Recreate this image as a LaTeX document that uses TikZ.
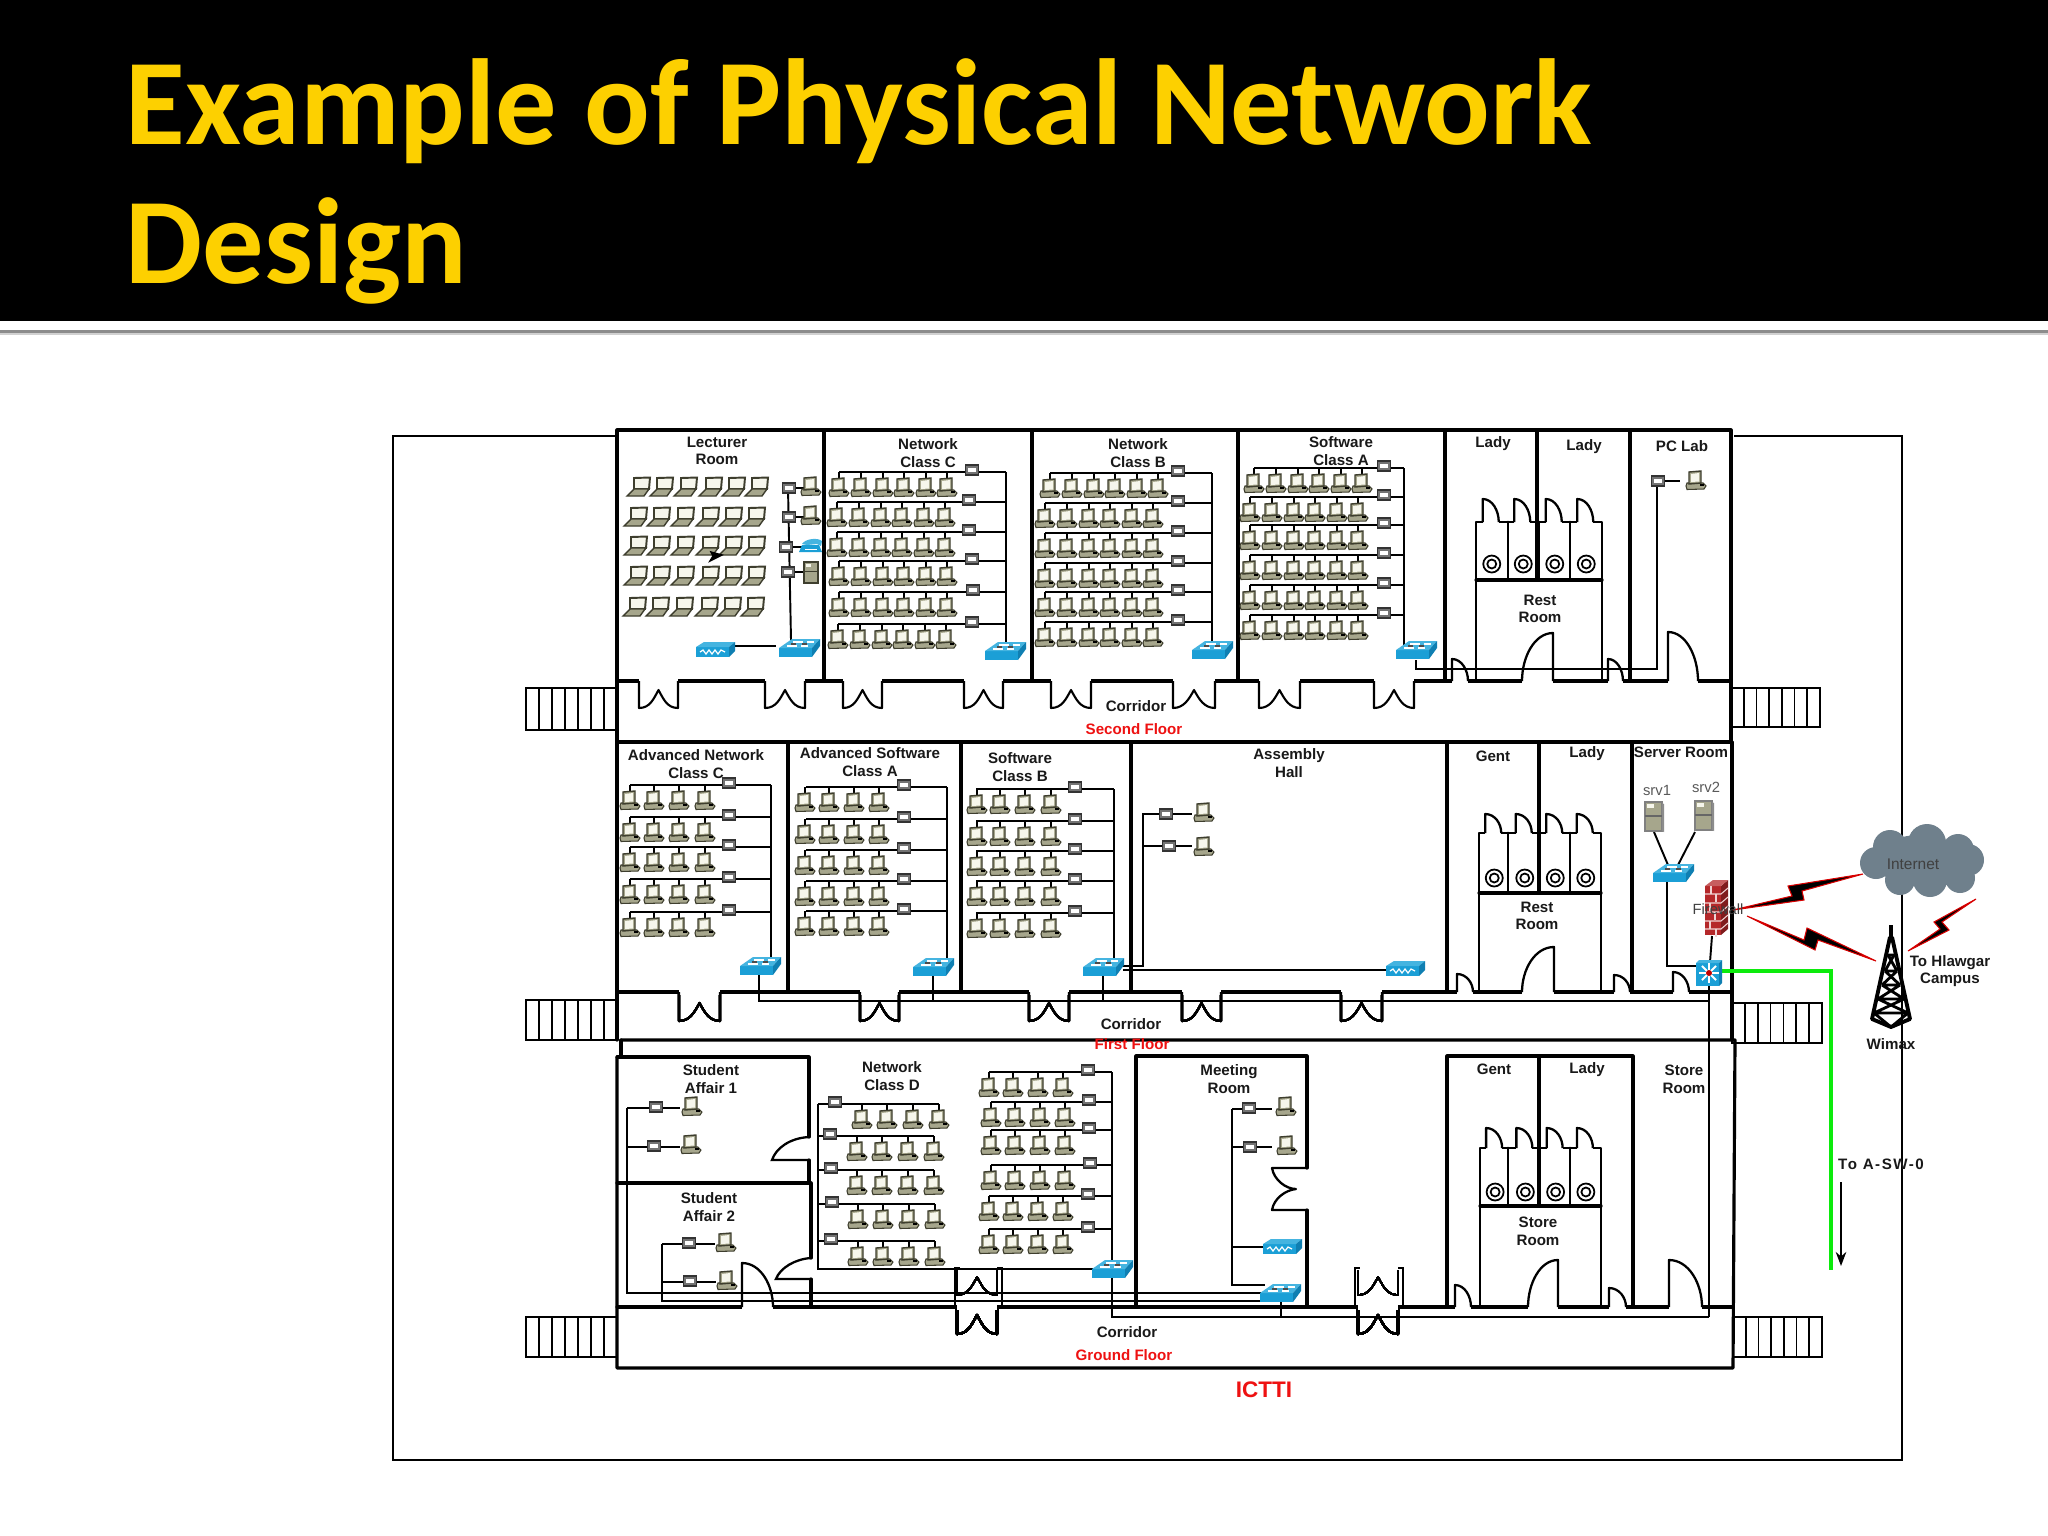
\documentclass[tikz,border=0pt]{standalone}
\usepackage{fontspec}
\setmainfont{Liberation Sans}
\newfontfamily\titlefont{Carlito}
\usetikzlibrary{arrows.meta}
\definecolor{ttlyellow}{HTML}{FDD000}
\definecolor{pcbody}{HTML}{A6A68C}
\definecolor{pcdark}{HTML}{3E3E2E}
\definecolor{pcscreen}{HTML}{F6F6EC}
\definecolor{swfront}{HTML}{1B9FD6}
\definecolor{swtop}{HTML}{45B4E0}
\definecolor{swside}{HTML}{0F7FB2}
\definecolor{netgreen}{HTML}{0CEB0C}
\definecolor{cloudgrey}{HTML}{6F808C}
\definecolor{brick}{HTML}{B5282A}
\definecolor{redlabel}{HTML}{EE1111}
\tikzset{
  wall/.style={line width=0.9pt,black,line cap=round,line join=round},
  net/.style={line width=0.55pt,black},
  frameline/.style={line width=0.55pt,black},
  lab/.style={font=\fontsize{4.3}{5}\selectfont\bfseries,align=center,inner sep=0pt,text=black!90},
  redlab/.style={font=\fontsize{4.3}{5}\selectfont\bfseries,inner sep=0pt,text=redlabel},
  pcicon/.pic={
    \filldraw[fill=pcbody,draw=pcdark,line width=0.3pt] (-9,3)--(7,3)--(10,6)--(8,9)--(-9,9.5)--(-10,6)--cycle;
    \filldraw[fill=pcbody,draw=pcdark,line width=0.4pt] (-7,-8)--(5,-9)--(5,3)--(-7,4)--cycle;
    \fill[pcscreen] (-5,-6)--(3,-7)--(3,1.5)--(-5,2)--cycle;
    \fill[black] (4,4) rectangle (7.5,6);
  },
  laptopicon/.pic={
    \filldraw[fill=pcscreen,draw=pcdark,line width=0.55pt] (-6,-9)--(10,-9.5)--(9,2)--(-6,2)--cycle;
    \filldraw[fill=pcbody,draw=pcdark,line width=0.4pt] (-6,2)--(9,2)--(4,9)--(-13,9)--cycle;
  },
  hubicon/.pic={
    \filldraw[fill=black!55,draw=black!80,line width=0.35pt] (-6.5,-5) rectangle (6.5,5);
    \fill[white] (-4,-2.5) rectangle (4,2);
  },
  swicon/.pic={
    \fill[swfront] (-20,0) rectangle (13,9);
    \fill[swtop] (-20,0)--(-7,-9)--(21,-9)--(13,0)--cycle;
    \fill[swside] (13,0)--(21,-9)--(21,-2)--(13,9)--cycle;
    \draw[white,line width=0.3pt] (-12,-2)--(-2,-2) (-6,-6)--(4,-6) (2,-2)--(9,-2) (8,-6)--(15,-6);
    \draw[black!70,line width=0.3pt] (-8,-4)--(-3,-4) (3,-4)--(8,-4);
  },
  routericon/.pic={
    \fill[swfront] (-19,-3) rectangle (14,7);
    \fill[swtop] (-19,-3)--(-11,-8)--(20,-8)--(14,-3)--cycle;
    \fill[swside] (14,-3)--(20,-8)--(20,1)--(14,7)--cycle;
    \draw[white,line width=0.35pt] (-15,2)--(-12,0)--(-9,4)--(-6,0)--(-3,4)--(0,0)--(3,4)--(6,0)--(10,2);
  },
  phoneicon/.pic={
    \fill[swfront] (-12,5)--(-9,-2)--(8,-2)--(11,5)--cycle;
    \fill[swtop] (-9,-3) .. controls (-6,-8) and (6,-10) .. (11,-6)--(10,-1)--(6,-3)--(-4,-2)--cycle;
    \draw[white,line width=0.25pt] (-6,2)--(6,2);
  },
  servericon/.pic={
    \filldraw[fill=pcbody,draw=pcdark,line width=0.3pt] (-7,-10) rectangle (7,11);
    \draw[pcdark,line width=0.25pt] (-7,-1)--(7,-1);
    \fill[pcscreen] (-5,-8) rectangle (0,-5);
  },
  bigservericon/.pic={
    \filldraw[fill=pcbody,draw=black!50,line width=0.3pt] (-9,-15) rectangle (8,14);
    \fill[black!45] (8,-14)--(10,-13)--(10,15)--(8,14)--cycle;
    \draw[black!60,line width=0.3pt] (-9,-1)--(8,-1);
    \fill[pcscreen] (-7,-13) rectangle (0,-9);
  },
  firewallicon/.pic={
    \fill[brick] (-11,-22)--(5,-22)--(5,27)--(-11,27)--cycle;
    \fill[brick!70!black] (5,-22)--(12,-28)--(12,21)--(5,27)--cycle;
    \fill[brick!75!white] (-11,-22)--(-3,-28)--(12,-28)--(5,-22)--cycle;
    \foreach \yy in {-14,-5,4,13,21} \draw[white!80!brick,line width=0.3pt] (-11,\yy)--(5,\yy) (5,\yy)--(12,\yy-6);
    \foreach \yy/\xx in {-22/-5,-14/0,-5/-6,4/-1,13/-6,21/0} \draw[white!80!brick,line width=0.3pt] (\xx,\yy)--(\xx,\yy+8);
  },
  layer3icon/.pic={
    \fill[swfront] (-13,-10) rectangle (10,13);
    \fill[swtop] (-13,-10)--(-10,-13)--(13,-13)--(10,-10)--cycle;
    \fill[swside] (10,-10)--(13,-13)--(13,10)--(10,13)--cycle;
    \foreach \aa in {0,45,...,315} \draw[white,line width=0.55pt] (0,0)--++(\aa:10);
    \fill[red!75!black] (0,0) circle (3);
  },
  towericon/.pic={
    \draw[black,line width=1.1pt,line join=round] (0,-102)--(0,-88) (-1,-90)--(-19,-8)--(0,0)--(19,-8)--(1,-90);
    \draw[black,line width=0.8pt,line join=round] (-3,-72)--(3,-72) (-6,-56)--(6,-56) (-9,-42)--(9,-42) (-13,-28)--(13,-28) (-17,-14)--(17,-14)
      (-6,-56)--(3,-72) (6,-56)--(-3,-72) (-9,-42)--(6,-56) (9,-42)--(-6,-56) (-13,-28)--(9,-42) (13,-28)--(-9,-42) (-17,-14)--(13,-28) (17,-14)--(-13,-28) (0,0)--(-17,-14) (0,0)--(17,-14);
  }
}
% x1 x2 wall-y bottom-y peak-y
\newcommand{\ddoor}[5]{%
  \draw[white,line width=1.5pt] (#1,#3)--(#2,#3);
  \draw[line width=0.6pt,line join=round] (#1,#3)--(#1,#4) .. controls ({#1+11},#4) and ({(#1+#2)/2-5},{#5+9}) .. ({(#1+#2)/2},#5)
     .. controls ({(#1+#2)/2+5},{#5+9}) and ({#2-11},#4) .. (#2,#4)--(#2,#3);
}
% hinge-x end-x wall-y top-y
\newcommand{\sdoor}[4]{%
  \draw[white,line width=1.5pt] (#1,#3)--(#2,#3);
  \draw[line width=0.65pt,line join=round] (#1,#3)--(#1,#4) .. controls ({#1+(#2-#1)*.6},#4) and (#2,{(#3+#4)/2}) .. (#2,#3);
}
% x0 x1 y0 y1 stairs
\newcommand{\stairs}[4]{%
  \draw[line width=0.5pt] (#1,#3) rectangle (#2,#4);
  \foreach \ss in {1,...,6} \draw[line width=0.5pt] ({#1+(#2-#1)*\ss/7},#3)--({#1+(#2-#1)*\ss/7},#4);
}
% x1 x2 ytop ydiv ybot ydoor circle-y
\newcommand{\stalls}[7]{%
  \draw[wall,line width=0.8pt] (#1,#5)--(#1,#3)--(#2,#3)--(#2,#5);
  \draw[wall] (#1,#4)--(#2,#4);
  \foreach \xx in {1508,1539,1570} \draw[wall,line width=0.8pt] (\xx,#3)--(\xx,#4);
  \foreach \xx in {1,2,3,4} {
    \pgfmathsetmacro{\cx}{(#1+\xx*(#2-#1)/4-(#2-#1)/8)}
    \pgfmathsetmacro{\da}{\cx-9}
    \pgfmathsetmacro{\db}{\cx+7}
    \sdoor{\da}{\db}{#3}{#6}
    \draw[line width=0.5pt] (\cx,#7) circle (8.5) (\cx,#7) circle (4.5);
  }
}
\newcommand{\pcrow}[4]{% y bus, left x of bus, right x (vertical), xs
  \draw[net] (#2,#1)--(#3,#1);
  \foreach \xx in {#4} {\draw[net] (\xx,#1)--(\xx,{#1+6}); \pic at (\xx,{#1+15}) {pcicon};}
}
\begin{document}
\begin{tikzpicture}[x=0.01cm,y=-0.01cm]
\useasboundingbox (0,0) rectangle (2048,1536);
\fill[white] (0,0) rectangle (2048,1536);
% header
\fill[black] (0,0) rectangle (2048,321);
\fill[black!45] (0,330) rectangle (2048,333);
\fill[black!18] (0,333) rectangle (2048,335);
\node[anchor=base west,inner sep=0pt,text=ttlyellow,font=\fontsize{34.8}{38}\selectfont\titlefont\bfseries] (title1) at (125,144) {Example of Physical Network};
\node[anchor=base west,inner sep=0pt,text=ttlyellow,font=\fontsize{34.8}{38}\selectfont\titlefont\bfseries] (title2) at (125,283) {Design};
% frame
\draw[frameline] (393,436) rectangle (1902,1460);
\fill[white] (617,430) rectangle (1734,1368);
% stairs
\stairs{526}{617}{688}{730}
\stairs{1731}{1820}{688}{727}
\stairs{526}{617}{1000}{1040}
\stairs{1732}{1822}{1003}{1043}
\stairs{526}{617}{1317}{1357}
\stairs{1733}{1822}{1317}{1357}
% second floor walls
\draw[wall] (617,430) rectangle (1731,742);
\draw[wall] (617,681)--(1731,681);
\foreach \xx in {824,1032,1238,1445,1630} \draw[wall] (\xx,430)--(\xx,681);
% first floor walls
\draw[wall] (617,742)--(617,1040) (1732,742)--(1732,1040);
\draw[wall] (617,992)--(1732,992);
\foreach \xx in {788,961,1131,1447,1632} \draw[wall] (\xx,742)--(\xx,992);
% ground floor walls
\draw[wall] (621,1040)--(1735,1040)--(1733,1368)--(617,1368)--(617,1057);
\draw[wall] (621,1040)--(621,1057);
\draw[wall] (617,1307)--(1733,1307);
\draw[wall] (617,1057)--(809,1057)--(809,1137) (809,1160)--(809,1183) (617,1183)--(811,1183)--(811,1258) (811,1279)--(811,1307);
\draw[wall] (1136,1307)--(1136,1056)--(1307,1056)--(1307,1168) (1307,1210)--(1307,1307);
\draw[wall] (1447,1307)--(1447,1056)--(1633,1056)--(1633,1307);
% room door curves (ground)
\draw[line width=0.65pt] (809,1137) .. controls (790,1138) and (776,1148) .. (772,1160)--(809,1160);
\draw[line width=0.65pt] (811,1258) .. controls (795,1259) and (780,1268) .. (776,1279)--(811,1279);
\draw[line width=0.65pt,line join=round] (1307,1168)--(1272,1168) .. controls (1274,1180) and (1286,1189) .. (1296,1189) .. controls (1286,1190) and (1274,1198) .. (1272,1210)--(1307,1210);
% second floor doors
\foreach \aa/\bb in {639/678,765/805,843/882,964/1003,1051/1091,1173/1215,1259/1300,1374/1414} \ddoor{\aa}{\bb}{681}{708}{690}
% first floor doors
\foreach \aa/\bb in {679/720,860/899,1029/1069,1182/1221,1341/1382} \ddoor{\aa}{\bb}{992}{1021}{1003}
% ground corridor doors
\foreach \aa/\bb in {957/997,1358/1398} {
  \draw[line width=0.45pt,line join=round] (\aa,1270)--(\aa,1295) .. controls ({\aa+11},1295) and ({(\aa+\bb)/2-5},1286) .. ({(\aa+\bb)/2},1277) .. controls ({(\aa+\bb)/2+5},1286) and ({\bb-11},1295) .. (\bb,1295)--(\bb,1270);
  \ddoor{\aa}{\bb}{1307}{1334}{1315}
}
\draw[line width=0.65pt] (955,1307)--(955,1268)--(960,1268) (1002,1307)--(1002,1268)--(997,1268);
\draw[line width=0.65pt] (1355,1307)--(1355,1268)--(1360,1268) (1403,1307)--(1403,1268)--(1398,1268);
\draw[white,line width=1.5pt] (957,1307)--(997,1307) (1358,1307)--(1398,1307);
% rest rooms
\stalls{1476}{1602}{522}{580}{681}{499}{564}
\stalls{1479}{1601}{833}{893}{992}{814}{878}
\stalls{1480}{1601}{1148}{1206}{1307}{1128}{1192}
\draw[wall] (1537,430)--(1537,580);
\draw[wall] (1539,742)--(1539,893);
\draw[wall] (1539,1056)--(1539,1206);
% single doors
\sdoor{1452}{1468}{681}{659}
\sdoor{1553}{1522}{681}{633}
\sdoor{1608}{1623}{681}{659}
\sdoor{1668}{1698}{681}{632}
\sdoor{1457}{1473}{992}{974}
\sdoor{1554}{1522}{992}{947}
\sdoor{1614}{1630}{992}{975}
\sdoor{1673}{1689}{992}{972}
\sdoor{742}{773}{1307}{1263}
\sdoor{1455}{1471}{1307}{1285}
\sdoor{1558}{1528}{1307}{1260}
\sdoor{1609}{1626}{1307}{1288}
\sdoor{1669}{1702}{1307}{1260}
% --- Lecturer room
\foreach \yy/\dx in {487/0,517/-3,546/-3,576/-3,607/-4}
  \foreach \xx in {640,663,687,712,735,758} \pic at ({\xx+\dx},\yy) {laptopicon};
\draw[black,fill=black] (711,552)--(722,555)--(710,561)--(713,556)--cycle;
\draw[net] (788,488)--(791,640);
\draw[net] (789,488)--(805,488) (789,517)--(805,517) (786,547)--(804,547) (788,572)--(806,572);
\foreach \xx/\yy in {789/488,789/517,786/547,788/572} \pic at (\xx,\yy) {hubicon};
\pic at (811,486) {pcicon};
\pic at (811,515) {pcicon};
\pic at (811,547) {phoneicon};
\pic at (811,572) {servericon};
\draw[net] (733,646)--(776,646);
\pic at (715,650) {routericon};
\pic at (799,648) {swicon};
% --- Network class C
\foreach \yy/\hh/\ll in {472/972/839,502/969/837,532/969/837,561/972/839,592/973/839,624/972/838} {
  \pcrow{\yy}{\ll}{1006}{\ll,{\ll+22},{\ll+44},{\ll+65},{\ll+87},{\ll+108}}
  \pic at (\hh,{\yy-2}) {hubicon};
}
\draw[net] (1006,472)--(1006,645);
\pic at (1005,651) {swicon};
% --- Network class B
\foreach \yy/\hh/\ll in {473/1178/1050,503/1178/1045,533/1178/1045,563/1178/1045,592/1178/1045,622/1178/1045} {
  \pcrow{\yy}{\ll}{1212}{\ll,{\ll+22},{\ll+44},{\ll+65},{\ll+87},{\ll+108}}
  \pic at (\hh,{\yy-2}) {hubicon};
}
\draw[net] (1212,473)--(1212,645);
\pic at (1212,650) {swicon};
% --- Software class A
\foreach \yy/\hh/\ll in {468/1384/1254,497/1384/1250,525/1384/1250,555/1384/1250,585/1384/1250,615/1384/1250} {
  \pcrow{\yy}{\ll}{1404}{\ll,{\ll+22},{\ll+44},{\ll+65},{\ll+87},{\ll+108}}
  \pic at (\hh,{\yy-2}) {hubicon};
}
\draw[net] (1404,468)--(1404,645);
\pic at (1416,650) {swicon};
% PC lab
\draw[net] (1416,660)--(1416,669)--(1657,669)--(1657,481)--(1680,481);
\pic at (1658,481) {hubicon};
\pic at (1696,480) {pcicon};
% --- Floor 1 switch backbone
\draw[net] (759,975)--(759,1001)--(1709,1001);
\draw[net] (933,975)--(933,1001) (1103,975)--(1103,1001);
% Adv network C
\foreach \yy/\hh in {785/729,817/729,847/729,879/729,912/729} {
  \pcrow{\yy}{630}{771}{630,654,679,705}
  \pic at (\hh,{\yy-2}) {hubicon};
}
\draw[net] (771,785)--(771,960);
\pic at (760,966) {swicon};
% Adv software A
\foreach \yy/\hh in {787/904,819/904,850/904,881/904,911/904} {
  \pcrow{\yy}{806}{947}{805,829,854,879}
  \pic at (\hh,{\yy-2}) {hubicon};
}
\draw[net] (947,787)--(947,960);
\pic at (933,967) {swicon};
% Software B
\foreach \yy/\hh in {789/1075,821/1075,851/1075,881/1075,913/1075} {
  \pcrow{\yy}{976}{1114}{977,1000,1025,1051}
  \pic at (\hh,{\yy-2}) {hubicon};
}
\draw[net] (1114,789)--(1114,960);
% Assembly hall
\draw[net] (1123,966)--(1143,966)--(1143,814)--(1192,814);
\draw[net] (1143,846)--(1192,846);
\draw[net] (1123,970)--(1388,970);
\pic at (1103,967) {swicon};
\pic at (1166,814) {hubicon};
\pic at (1169,846) {hubicon};
\pic at (1204,812) {pcicon};
\pic at (1204,846) {pcicon};
\pic at (1405,969) {routericon};
% Server room
\draw[net] (1654,832)--(1668,865) (1695,832)--(1678,865);
\draw[net] (1667,880)--(1667,966)--(1696,966);
\draw[net] (1712,936)--(1710,962);
\draw[net] (1709,980)--(1709,1317);
\pic at (1654,817) {bigservericon};
\pic at (1704,816) {bigservericon};
\pic at (1673,873) {swicon};
\pic at (1716,908) {firewallicon};
\draw[netgreen,line width=1.15pt] (1722,971)--(1831,971)--(1831,1270);
\pic at (1709,973) {layer3icon};
% --- Ground floor networks
\draw[net] (1112,1072)--(1112,1317)--(1709,1317);
\draw[net] (1281,1302)--(1281,1317);
\draw[net] (818,1104)--(818,1269)--(1094,1269);
\draw[net] (627,1108)--(627,1293)--(1261,1293);
\draw[net] (662,1244)--(662,1301)--(1261,1301);
% student
\draw[net] (627,1108)--(680,1108) (627,1147)--(680,1147);
\pic at (656,1107) {hubicon};
\pic at (654,1146) {hubicon};
\pic at (692,1106) {pcicon};
\pic at (691,1144) {pcicon};
\draw[net] (662,1244)--(715,1244) (662,1282)--(716,1282);
\pic at (689,1243) {hubicon};
\pic at (690,1281) {hubicon};
\pic at (726,1242) {pcicon};
\pic at (727,1280) {pcicon};
% class D left
\foreach \yy/\hh/\ll in {1104/835/862,1136/830/857,1170/831/857,1204/832/858,1241/831/858} {
  \pcrow{\yy}{818}{{\ll+77}}{\ll,{\ll+25},{\ll+51},{\ll+77}}
  \pic at (\hh,{\yy-2}) {hubicon};
}
% class D right
\foreach \yy/\hh/\ll in {1072/1088/989,1102/1089/991,1130/1089/991,1165/1090/991,1196/1088/989,1229/1088/989} {
  \pcrow{\yy}{\ll}{1112}{\ll,{\ll+24},{\ll+49},{\ll+74}}
  \pic at (\hh,{\yy-2}) {hubicon};
}
\pic at (1112,1269) {swicon};
% meeting room
\draw[net] (1232,1109)--(1272,1109) (1232,1147)--(1272,1147) (1232,1247)--(1268,1247);
\draw[net] (1232,1109)--(1232,1285)--(1265,1285);
\pic at (1249,1108) {hubicon};
\pic at (1250,1147) {hubicon};
\pic at (1286,1106) {pcicon};
\pic at (1287,1145) {pcicon};
\pic at (1282,1247) {routericon};
\pic at (1280,1293) {swicon};
% --- Outside
\draw[black,fill=black,line width=0.3pt,draw=red!85!black] (1733,910)--(1792,896)--(1788,886)--(1863,874)--(1802,891)--(1804,900)--cycle;
\draw[black,fill=black,line width=0.3pt,draw=red!85!black] (1747,916)--(1804,940)--(1807,928)--(1876,961)--(1818,940)--(1815,950)--cycle;
\draw[black,fill=black,line width=0.3pt,draw=red!85!black] (1908,951)--(1940,929)--(1934,922)--(1976,899)--(1942,922)--(1949,930)--cycle;
% cloud
\fill[cloudgrey] (1890,847) circle (17) (1927,843) circle (19) (1958,850) circle (16) (1968,860) circle (16) (1876,863) circle (16)
  (1900,880) circle (15) (1930,880) circle (17) (1960,878) circle (15) (1920,860) ellipse (45 and 25);
\node[inner sep=0pt,font=\fontsize{4.4}{5}\selectfont,text=black!75] (internetlab) at (1913,864) {Internet};
\pic at (1891,1027) {towericon};
% arrow
\coordinate (arrowa) at (1841,1182);
\coordinate (arrowb) at (1841,1266);
\draw[line width=0.55pt,-{Stealth[length=4pt,width=3pt]}] (arrowa)--(arrowb);
% labels
\foreach \nm/\px/\py/\tx in {
  l1/717/451/{Lecturer\\Room}, l2/928/453/{Network\\Class C}, l3/1138/453/{Network\\Class B}, l4/1341/451/{Software\\Class A},
  l5/1493/444/{Lady}, l6/1584/447/{Lady}, l7/1682/446/{PC Lab}, l8/1540/609/{Rest\\Room},
  l9/696/764/{Advanced Network\\Class C}, l10/870/762/{Advanced Software\\Class A}, l11/1020/767/{Software\\Class B},
  l12/1289/763/{Assembly\\Hall}, l13/1493/756/{Gent}, l14/1587/754/{Lady}, l15/1681/752/{Server Room}, l16/1537/916/{Rest\\Room},
  l17/711/1079/{Student\\Affair 1}, l18/709/1207/{Student\\Affair 2}, l19/892/1076/{Network\\Class D}, l20/1229/1079/{Meeting\\Room},
  l21/1494/1069/{Gent}, l22/1587/1070/{Lady}, l23/1538/1231/{Store\\Room}, l24/1684/1079/{Store\\Room},
  l25/1136/706/{Corridor}, l26/1131/1024/{Corridor}, l27/1127/1332/{Corridor},
  l28/1950/971/{To Hlawgar\\Campus}, l29/1891/1044/{Wimax}}
  {\node[lab] (\nm) at (\px,\py) {\tx};}
\node[lab] (l30) at (1881,1164) {\addfontfeature{LetterSpace=10}To A-SW-0};
\node[redlab] (r1) at (1134,729) {Second Floor};
\node[redlab] (r2) at (1132,1044) {First Floor};
\node[redlab] (r3) at (1124,1355) {Ground Floor};
\node[redlab,font=\fontsize{6.4}{7}\selectfont\bfseries] (r4) at (1264,1390) {ICTTI};
\node[inner sep=0pt,font=\fontsize{4.2}{5}\selectfont,text=black!65] (s1) at (1657,790) {srv1};
\node[inner sep=0pt,font=\fontsize{4.2}{5}\selectfont,text=black!65] (s2) at (1706,787) {srv2};
\node[inner sep=0pt,font=\fontsize{4.2}{5}\selectfont,text=black!75] (fw) at (1718,909) {Firewall};
\end{tikzpicture}
\end{document}
